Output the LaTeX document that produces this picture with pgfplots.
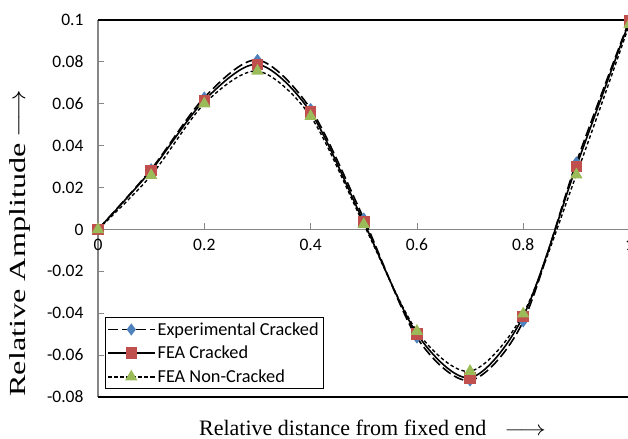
\documentclass[border=0pt]{standalone}
\usepackage{fontspec}
\setmainfont{Carlito}
\newfontfamily\timesfont{Liberation Serif}
\usepackage{pgfplots}
\pgfplotsset{compat=1.18}
\definecolor{xblue}{RGB}{79,129,189}
\definecolor{xred}{RGB}{192,80,77}
\definecolor{xgreen}{RGB}{155,187,89}
\definecolor{axgray}{RGB}{134,134,134}
\begin{document}
\begin{tikzpicture}[x=1bp,y=1bp]
\useasboundingbox (0,0) rectangle (628,439);
\begin{axis}[
  at={(98bp,42bp)}, anchor=south west,
  scale only axis, width=531.5bp, height=377bp,
  xmin=0, xmax=1, ymin=-0.08, ymax=0.1,
  axis y line=left, axis x line=middle,
  axis line style={-},
  y axis line style={draw=axgray, line width=1.6bp},
  x axis line style={draw=axgray, line width=0.9bp},
  xtick={0,0.2,0.4,0.6,0.8,1},
  xticklabels={0,0.2,0.4,0.6,0.8,1},
  ytick={-0.08,-0.06,-0.04,-0.02,0,0.02,0.04,0.06,0.08,0.1},
  yticklabels={-0.08,-0.06,-0.04,-0.02,0,0.02,0.04,0.06,0.08,0.1},
  tick align=inside, major tick length=6bp,
  tick style={draw=axgray, line width=0.8bp},
  ticklabel style={font=\fontsize{17.5bp}{20bp}\selectfont},
  yticklabel style={xshift=-11bp},
  xticklabel style={yshift=-6bp},
  hide obscured x ticks=false,
  hide obscured y ticks=false,
  clip=false,
  xlabel={{\timesfont\fontsize{22bp}{26bp}\selectfont Relative distance from fixed end\hspace{18bp}\scalebox{1.25}[1]{$\longrightarrow$}}},
  xlabel style={at={(axis description cs:0.5165,-0.101)}, anchor=base},
  ylabel={{\timesfont\fontsize{23bp}{26bp}\selectfont \scalebox{1.4}[1]{Relative Amplitude}\hspace{6bp}\scalebox{1.2}[1]{$\longrightarrow$}}},
  ylabel style={at={(axis description cs:-0.1373,0.4085)}, anchor=base},
  legend style={at={(axis description cs:0.01317,0.02122)}, anchor=south west,
    draw=black, line width=1bp, fill=white, inner sep=2bp, row sep=4.5bp,
    font=\fontsize{18.3bp}{20bp}\selectfont, nodes={inner sep=2.5bp}},
  legend cell align=left,
  legend image code/.code={\draw[mark repeat=2,mark phase=2,#1] plot coordinates {(0bp,0bp) (23bp,0bp) (46bp,0bp)};},
]
\draw[black, line width=1.5bp] (axis cs:0,0.1) -- (axis cs:1,0.1) -- (axis cs:1,-0.08) -- (axis cs:0,-0.08);

\addplot[black, line width=1.6bp, dash pattern=on 10bp off 4bp, smooth,
  mark=diamond*, mark size=4.8bp, mark options={solid, fill=xblue, draw=xblue}]
  coordinates {(0,0) (0.1,0.0287) (0.2,0.0630) (0.3,0.0809) (0.4,0.0575) (0.5,0.0052)
               (0.6,-0.0516) (0.7,-0.0721) (0.8,-0.0439) (0.9,0.0320) (1.0,0.1000)};
\addlegendentry{Experimental Cracked}

\addplot[black, line width=1.6bp, solid, smooth,
  mark=square*, mark size=5bp, mark options={solid, fill=xred, draw=xred}]
  coordinates {(0,0) (0.1,0.0282) (0.2,0.0616) (0.3,0.0788) (0.4,0.0560) (0.5,0.0035)
               (0.6,-0.0498) (0.7,-0.0708) (0.8,-0.0415) (0.9,0.0301) (1.0,0.0995)};
\addlegendentry{FEA Cracked}

\addplot[black, line width=1.4bp, dash pattern=on 3.5bp off 2.5bp, smooth,
  mark=triangle*, mark size=5.8bp, mark options={solid, fill=xgreen, draw=xgreen}]
  coordinates {(0,0) (0.1,0.0258) (0.2,0.0600) (0.3,0.0756) (0.4,0.0540) (0.5,0.0024)
               (0.6,-0.0486) (0.7,-0.0677) (0.8,-0.0403) (0.9,0.0261) (1.0,0.0980)};
\addlegendentry{FEA Non-Cracked}
\end{axis}
\end{tikzpicture}
\end{document}
